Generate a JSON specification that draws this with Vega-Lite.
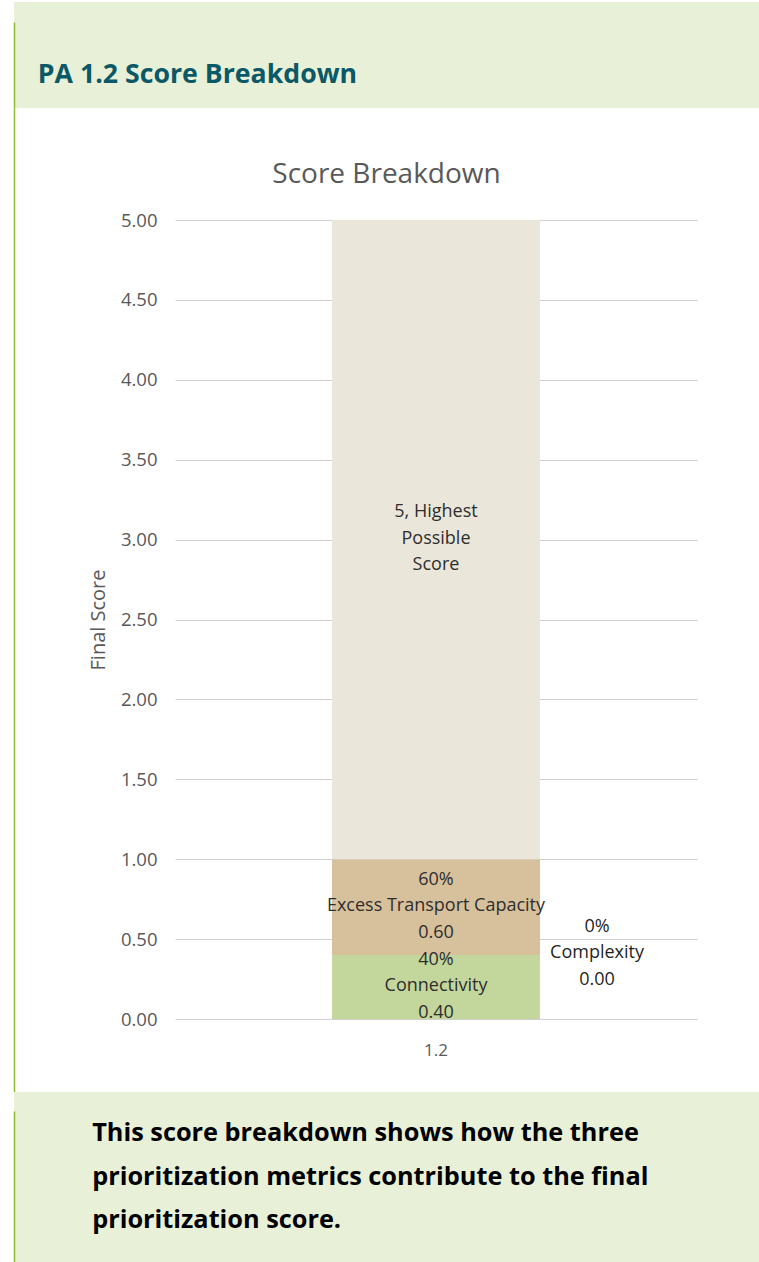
{
  "$schema": "https://vega.github.io/schema/vega-lite/v6.json",
  "padding": {"left": 14, "top": 2, "right": 0, "bottom": 0},
  "background": "white",
  "spacing": 0,
  "config": {"view": {"stroke": null}, "font": "Open Sans"},
  "datasets": {
    "heading": [{"text": "PA 1.2 Score Breakdown"}],
    "caption": [{"lines": ["This score breakdown shows how the three", "prioritization metrics contribute to the final", "prioritization score."]}],
    "scores": [
      {"pa": "1.2", "metric": "Connectivity", "score": 0.4, "order": 1, "label": ["40%", "Connectivity", "0.40"]},
      {"pa": "1.2", "metric": "Excess Transport Capacity", "score": 0.6, "order": 2, "label": ["60%", "Excess Transport Capacity", "0.60"]},
      {"pa": "1.2", "metric": "Complexity", "score": 0.0, "order": 3, "label": ["0%", "Complexity", "0.00"]},
      {"pa": "1.2", "metric": "Highest Possible Score", "score": 4.0, "order": 4, "label": ["5, Highest", "Possible", "Score"]}
    ]
  },
  "vconcat": [
    {
      "width": 745,
      "height": 106,
      "view": {"fill": "#E9F0D8", "stroke": null},
      "data": {"name": "heading"},
      "mark": {"type": "text", "align": "left", "baseline": "middle", "font": "Open Sans", "fontWeight": "bold", "fontSize": 26.7, "color": "#0B5866"},
      "encoding": {
        "text": {"field": "text"},
        "x": {"datum": 3.2, "type": "quantitative", "scale": {"domain": [0, 100], "nice": false, "zero": false}, "axis": null},
        "y": {"datum": 38.4, "type": "quantitative", "scale": {"domain": [0, 100], "range": [106, 20], "nice": false, "zero": false},
              "axis": {"orient": "left", "domain": true, "domainColor": "#8DBA2E", "domainWidth": 1.5, "labels": false, "ticks": false, "grid": false, "title": null, "minExtent": 0}}
      }
    },
    {
      "width": 745,
      "height": 984,
      "title": {"text": "Score Breakdown", "fontSize": 28, "fontWeight": "normal", "color": "#595959", "font": "Open Sans", "anchor": "middle", "frame": "bounds", "baseline": "middle", "offset": -95},
      "layer": [
        {
          "data": {"name": "scores"},
          "layer": [
            {
              "mark": {"type": "bar"},
              "encoding": {
                "x": {"field": "pa", "type": "nominal", "scale": {"range": [161, 683], "paddingInner": 0, "paddingOuter": 0.755},
                      "axis": {"orient": "bottom", "offset": -73, "title": null, "labelAngle": 0, "ticks": false, "domain": false, "labelFontSize": 17, "labelColor": "#595959", "labelPadding": 23}},
                "y": {"field": "score", "type": "quantitative", "stack": "zero", "scale": {"domain": [0, 5], "range": [911, 112], "nice": false},
                      "axis": {"orient": "left", "offset": -161, "title": "Final Score", "format": ".2f", "values": [0, 0.5, 1, 1.5, 2, 2.5, 3, 3.5, 4, 4.5, 5],
                               "grid": true, "gridColor": "#D0D0D0", "gridWidth": 1, "ticks": false, "domain": false,
                               "labelFontSize": 18.5, "labelColor": "#595959", "labelPadding": 18,
                               "titleFontSize": 20, "titleFontWeight": "normal", "titleColor": "#595959", "titlePadding": 12}},
                "color": {"field": "metric", "type": "nominal",
                          "scale": {"domain": ["Connectivity", "Excess Transport Capacity", "Complexity", "Highest Possible Score"],
                                    "range": ["#C3D69B", "#D7C09C", "#8DB4E2", "#EAE7DA"]},
                          "legend": null},
                "order": {"field": "order", "type": "quantitative"}
              }
            },
            {
              "transform": [
                {"stack": "score", "groupby": ["pa"], "sort": [{"field": "order", "order": "ascending"}], "as": ["lo", "hi"]},
                {"calculate": "(datum.lo + datum.hi) / 2", "as": "mid"},
                {"filter": "datum.metric !== 'Complexity'"}
              ],
              "mark": {"type": "text", "align": "center", "baseline": "middle", "fontSize": 18, "lineHeight": 26.5, "dy": -27.5, "color": "#2E2E2E"},
              "encoding": {
                "x": {"field": "pa", "type": "nominal"},
                "y": {"field": "mid", "type": "quantitative"},
                "text": {"field": "label"}
              }
            },
            {
              "transform": [{"filter": "datum.metric === 'Complexity'"}],
              "mark": {"type": "text", "align": "center", "baseline": "middle", "fontSize": 18, "lineHeight": 26.5, "dy": -26.5, "color": "#1F1F1F", "dx": 161},
              "encoding": {
                "x": {"field": "pa", "type": "nominal"},
                "y": {"datum": 0.413, "type": "quantitative"},
                "text": {"field": "label"}
              }
            }
          ]
        },
        {
          "data": {"values": [{}]},
          "mark": {"type": "text", "baseline": "middle"},
          "encoding": {
            "text": {"value": ""},
            "y": {"datum": 50, "type": "quantitative", "scale": {"domain": [0, 100], "nice": false, "zero": false},
                  "axis": {"orient": "left", "offset": 0, "domain": true, "domainColor": "#8DBA2E", "domainWidth": 1.5, "labels": false, "ticks": false, "grid": false, "title": null, "minExtent": 0}}
          }
        }
      ],
      "resolve": {"scale": {"y": "independent"}, "axis": {"y": "independent"}}
    },
    {
      "width": 745,
      "height": 170,
      "view": {"fill": "#E9F0D8", "stroke": null},
      "data": {"name": "caption"},
      "mark": {"type": "text", "align": "left", "baseline": "middle", "font": "Open Sans", "fontWeight": "bold", "fontSize": 25.3, "lineHeight": 43.5, "color": "#000000"},
      "encoding": {
        "text": {"field": "lines"},
        "x": {"datum": 10.5, "type": "quantitative", "scale": {"domain": [0, 100], "nice": false, "zero": false}, "axis": null},
        "y": {"datum": 85.4, "type": "quantitative", "scale": {"domain": [0, 100], "range": [170, 19], "nice": false, "zero": false},
              "axis": {"orient": "left", "domain": true, "domainColor": "#8DBA2E", "domainWidth": 1.5, "labels": false, "ticks": false, "grid": false, "title": null, "minExtent": 0}}
      }
    }
  ]
}
